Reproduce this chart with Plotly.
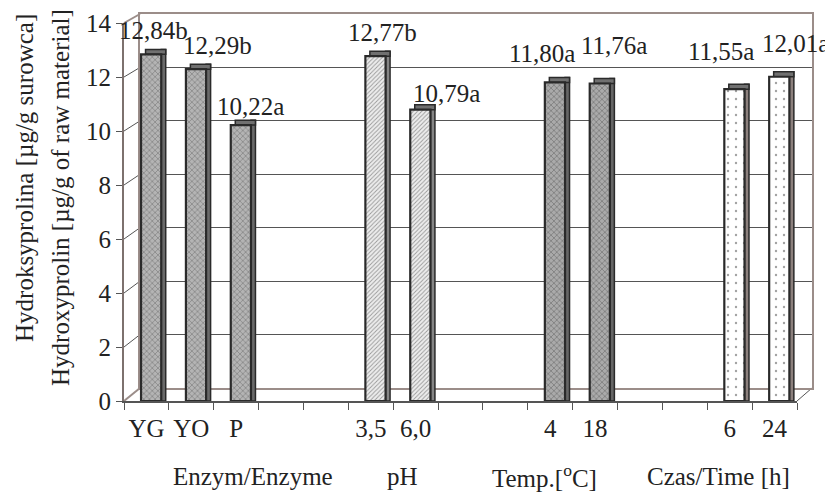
import plotly.graph_objects as go

# ---------------- data ----------------
GROUP_NAMES = ["Enzym/Enzyme", "pH", "Temp.[<sup>o</sup>C]", "Czas/Time [h]"]
LEVELS = [["YG", "YO", "P"], ["3,5", "6,0"], ["4", "18"], ["6", "24"]]
VALUES = [[12.84, 12.29, 10.22], [12.77, 10.79], [11.80, 11.76], [11.55, 12.01]]
LETTERS = [["b", "b", "a"], ["b", "a"], ["a", "a"], ["a", "a"]]
Y_TICKS = [0, 2, 4, 6, 8, 10, 12, 14]

# ---------------- styling ----------------
PAGE_W, PAGE_H = 833, 494
OX = OY = 8                      # browser body margin
W, H = PAGE_W - OX, PAGE_H - OY  # figure size


def px(x):
    return (x - OX) / W


def py(y):
    return 1 - (y - OY) / H


FONT = "Liberation Serif"
FS = 25
TXT = "#222222"
GAP = 2  # empty slots between groups
GROUP_STYLE = [
    dict(shape="x", bg="#b4b4b4", fg="#444444", size=4, sol=0.3, side="#6a6a6a"),
    dict(shape="/", bg="#ededed", fg="#707070", size=3, sol=0.3, side="#858585"),
    dict(shape="x", bg="#aaaaaa", fg="#3c3c3c", size=4, sol=0.33, side="#666666"),
    dict(shape=".", bg="#ffffff", fg="#666666", size=8, sol=0.07, side="#8c807d"),
]
LABEL_XSHIFT = [7, 26, 14, 12, 31, -8, 19, -9, 21]
LABEL_YSHIFT = [24, 24, 19, 24, 16, 29, 38, 38, 33]
GROUP_LABEL_X = [2.38, 5.7, 8.88, 12.75]

# page-pixel geometry of the "3-D" frame
FX0, FX1, FY0, FY1 = 124, 797, 401, 23      # front axes (x range, y of 0 and 14)
BX0, BX1, BY0, BY1 = 140, 812, 388, 14      # back wall
WALL = "#9b8d89"

# ---------------- derived positions ----------------
pos, cats, vals, texts, gidx = [], [], [], [], []
p = 0
for g, (lv, vv, ll) in enumerate(zip(LEVELS, VALUES, LETTERS)):
    for name, v, let in zip(lv, vv, ll):
        pos.append(p)
        cats.append(name)
        vals.append(v)
        texts.append(f"{v:.2f}".replace(".", ",") + let)
        gidx.append(g)
        p += 1
    p += GAP
NSLOT = p - GAP
XR = [-0.5, NSLOT - 0.5]

DEPTH = 0.18
FRONT_OFF, FRONT_W = -0.12, 0.45
SIDE_OFF, SIDE_W = FRONT_OFF + FRONT_W, 0.1
TOP_OFF, TOP_W = FRONT_OFF + 0.1, FRONT_W + SIDE_W - 0.1

fig = go.Figure()

# invisible trace so the back-wall subplot exists
fig.add_trace(go.Scatter(x=[None], y=[None], xaxis="x", yaxis="y",
                         showlegend=False, hoverinfo="skip"))

EDGE = "#2a2a2a"
# side faces
fig.add_trace(go.Bar(
    x=pos, y=[v + DEPTH for v in vals], xaxis="x2", yaxis="y2",
    offset=SIDE_OFF, width=SIDE_W,
    marker=dict(color=[GROUP_STYLE[g]["side"] for g in gidx],
                line=dict(color=EDGE, width=1.5)),
    showlegend=False, hoverinfo="skip"))
# top faces
fig.add_trace(go.Bar(
    x=pos, y=[DEPTH] * len(vals), base=vals, xaxis="x2", yaxis="y2",
    offset=TOP_OFF, width=TOP_W,
    marker=dict(color="#707070", line=dict(color=EDGE, width=1.5)),
    showlegend=False, hoverinfo="skip"))
# front faces
fig.add_trace(go.Bar(
    x=pos, y=vals, xaxis="x2", yaxis="y2",
    offset=FRONT_OFF, width=FRONT_W,
    marker=dict(
        color=[GROUP_STYLE[g]["bg"] for g in gidx],
        line=dict(color=EDGE, width=2.2),
        pattern=dict(
            shape=[GROUP_STYLE[g]["shape"] for g in gidx],
            fgcolor=[GROUP_STYLE[g]["fg"] for g in gidx],
            size=[GROUP_STYLE[g]["size"] for g in gidx],
            solidity=[GROUP_STYLE[g]["sol"] for g in gidx],
            fillmode="overlay",
        ),
    ),
    showlegend=False, hoverinfo="skip"))

annotations = []
for i, (x, v, t) in enumerate(zip(pos, vals, texts)):
    annotations.append(dict(
        x=x, y=v, xref="x2", yref="y2", text=t, showarrow=False,
        xanchor="center", yanchor="middle",
        xshift=LABEL_XSHIFT[i], yshift=LABEL_YSHIFT[i],
        font=dict(family=FONT, size=FS, color=TXT)))

for gname, gx in zip(GROUP_NAMES, GROUP_LABEL_X):
    annotations.append(dict(
        x=gx, y=py(476), xref="x2", yref="paper", text=gname,
        xanchor="center", yanchor="middle",
        showarrow=False, font=dict(family=FONT, size=FS, color=TXT)))

annotations.append(dict(
    x=px(24), y=py(178), xref="paper", yref="paper",
    xanchor="center", yanchor="middle",
    text="Hydroksyprolina [µg/g surowca]", textangle=-90, showarrow=False,
    font=dict(family=FONT, size=FS, color=TXT)))
annotations.append(dict(
    x=px(60), y=py(198), xref="paper", yref="paper",
    xanchor="center", yanchor="middle",
    text="Hydroxyprolin [µg/g of raw material]", textangle=-90, showarrow=False,
    font=dict(family=FONT, size=FS, color=TXT)))

# side-wall diagonals joining the front axis to the back wall
shapes = []
for v in Y_TICKS:
    yf = FY0 - v * (FY0 - FY1) / 14
    yb = BY0 - v * (BY0 - BY1) / 14
    edge = v in (Y_TICKS[0], Y_TICKS[-1])
    shapes.append(dict(type="line", xref="paper", yref="paper", layer="below",
                       x0=px(FX0), y0=py(yf), x1=px(BX0), y1=py(yb),
                       line=dict(color=WALL if edge else "#555555",
                                 width=2 if edge else 1)))
shapes.append(dict(type="line", xref="paper", yref="paper", layer="below",
                   x0=px(FX1), y0=py(FY0), x1=px(BX1), y1=py(BY0),
                   line=dict(color="#555555", width=1)))

fig.update_layout(
    width=W, height=H, autosize=False,
    margin=dict(l=0, r=0, t=0, b=0),
    paper_bgcolor="white", plot_bgcolor="rgba(0,0,0,0)",
    barmode="overlay", showlegend=False,
    font=dict(family=FONT, size=FS, color=TXT),
    annotations=annotations, shapes=shapes,
    xaxis=dict(domain=[px(BX0), px(BX1)], range=[0, 1], anchor="y",
               showgrid=False, zeroline=False, showticklabels=False, ticks="",
               showline=True, mirror=True, linecolor=WALL, linewidth=2,
               automargin=False),
    yaxis=dict(domain=[py(BY0), py(BY1)], range=[0, 14], anchor="x",
               dtick=2, showgrid=True, gridcolor="#555555", gridwidth=1,
               zeroline=False, showticklabels=False, ticks="",
               showline=True, mirror=True, linecolor=WALL, linewidth=2,
               automargin=False),
    xaxis2=dict(domain=[px(FX0), px(FX1)], range=XR, anchor="y2",
                tickmode="array", tickvals=pos, ticktext=cats, ticks="",
                ticklabelstandoff=4,
                tickfont=dict(family=FONT, size=FS, color=TXT),
                minor=dict(tick0=-0.5, dtick=1, ticks="outside", ticklen=7,
                           tickcolor="#555555", tickwidth=1, showgrid=False),
                showgrid=False, zeroline=False,
                showline=True, linecolor="#555555", linewidth=1.5,
                automargin=False),
    yaxis2=dict(domain=[py(FY0), py(FY1)], range=[0, 14], anchor="x2",
                tickmode="array", tickvals=Y_TICKS, ticks="outside", ticklen=6,
                tickcolor="#555555",
                tickfont=dict(family=FONT, size=FS, color=TXT),
                showgrid=False, zeroline=False,
                showline=True, linecolor="#7d716e", linewidth=2,
                automargin=False),
)

fig.write_html("out.html")
